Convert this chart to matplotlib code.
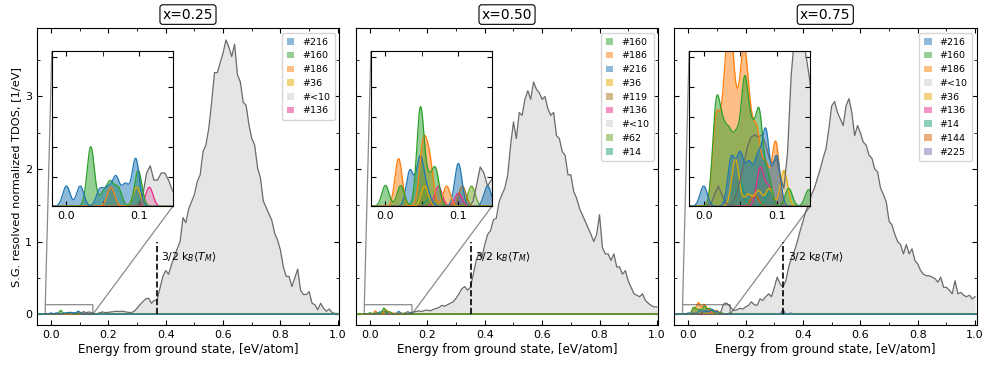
import numpy as np
import matplotlib
matplotlib.use('Agg')
import matplotlib.pyplot as plt
from matplotlib.patches import Patch
from matplotlib.ticker import MultipleLocator, NullFormatter

# ------------------------------------------------------------------ data
titles = ['x=0.25', 'x=0.50', 'x=0.75']
kbt_lines = [0.368, 0.351, 0.331]          # 3/2 kB<T_M> positions (eV/atom)
kbt_label = r'3/2 k$_B\langle T_M\rangle$'

# TDOS of low-symmetry structures (#<10)
# low part: energies 0.000 .. 0.150 every 0.005 ; high part: 0.16 .. 1.00 every 0.01
gray_low_025 = [0, 0, 0, 0, 0, 0, 0, 0, 0, 0, 0, 0, 0, 0, 0, 0, 0, 0, 0, 0,
                0.002, 0.010, 0.028, 0.034, 0.022, 0.022, 0.028, 0.028, 0.022, 0.014, 0.008]
gray_high_025 = [0.005, 0.02, 0.03, 0.02, 0.025, 0.03, 0.035, 0.04, 0.035, 0.04,
                 0.03, 0.025, 0.02, 0.04, 0.08, 0.13, 0.17, 0.21, 0.22, 0.15,
                 0.19, 0.20, 0.36, 0.52, 0.60, 0.55, 0.68, 0.80, 0.90, 1.00,
                 1.33, 1.26, 1.45, 1.55, 1.65, 1.83, 1.92, 2.24, 2.33, 2.56,
                 2.92, 3.33, 3.33, 3.47, 3.60, 3.78, 3.68, 3.55, 3.72, 3.30,
                 3.20, 2.92, 2.88, 2.61, 2.42, 2.33, 2.02, 1.88, 1.56, 1.47,
                 1.38, 1.29, 1.11, 1.02, 0.88, 0.65, 0.52, 0.52, 0.38, 0.50,
                 0.62, 0.33, 0.27, 0.27, 0.31, 0.15, 0.13, 0.06, 0.15, 0.08,
                 0.04, 0.07, 0.02, 0.01, 0.01]

gray_low_050 = [0, 0, 0, 0, 0, 0, 0, 0, 0, 0, 0, 0, 0, 0, 0, 0, 0, 0, 0, 0,
                0, 0, 0, 0, 0.004, 0.018, 0.033, 0.028, 0.017, 0.022, 0.028]
gray_high_050 = [0.035, 0.045, 0.035, 0.05, 0.055, 0.045, 0.065, 0.077, 0.09, 0.12,
                 0.11, 0.13, 0.15, 0.17, 0.22, 0.28, 0.35, 0.38, 0.33, 0.37,
                 0.55, 0.74, 0.85, 0.78, 0.96, 1.10, 1.15, 1.30, 1.32, 1.55,
                 1.65, 1.74, 1.92, 2.33, 2.65, 2.42, 2.78, 2.74, 2.96, 3.08,
                 2.96, 3.20, 3.10, 3.05, 2.96, 3.00, 2.83, 2.74, 2.78, 2.46,
                 2.42, 2.24, 2.19, 1.92, 1.92, 1.69, 1.60, 1.46, 1.37, 1.28,
                 1.19, 1.10, 1.00, 1.10, 1.37, 0.92, 0.83, 0.83, 0.74, 0.83,
                 0.65, 0.65, 0.55, 0.60, 0.46, 0.37, 0.28, 0.26, 0.24, 0.28,
                 0.19, 0.15, 0.12, 0.10, 0.10]

gray_low_075 = [0, 0, 0.002, 0.010, 0.017, 0.010, 0.003, 0.001, 0.003, 0.010,
                0.022, 0.036, 0.050, 0.058, 0.060, 0.058, 0.060, 0.052, 0.040, 0.036,
                0.040, 0.025, 0.015, 0.045, 0.110, 0.145, 0.152, 0.148, 0.128, 0.108, 0.080]
gray_high_075 = [0.05, 0.06, 0.08, 0.07, 0.10, 0.12, 0.17, 0.13, 0.12, 0.21,
                 0.19, 0.24, 0.28, 0.24, 0.37, 0.51, 0.42, 0.37, 0.46, 0.65,
                 0.78, 0.87, 1.00, 1.15, 1.28, 1.42, 1.51, 1.65, 1.74, 1.87,
                 2.00, 2.15, 2.28, 2.55, 2.87, 2.93, 2.78, 2.69, 2.60, 2.87,
                 2.97, 2.78, 2.46, 2.60, 2.50, 2.37, 2.33, 2.19, 2.15, 2.00,
                 1.96, 1.74, 1.65, 1.55, 1.28, 1.23, 1.10, 1.00, 0.96, 0.83,
                 0.96, 0.83, 0.90, 0.74, 0.69, 0.60, 0.55, 0.53, 0.53, 0.51,
                 0.49, 0.44, 0.51, 0.37, 0.37, 0.33, 0.28, 0.46, 0.28, 0.30,
                 0.26, 0.24, 0.26, 0.21, 0.24]

# space-group resolved structure energies (eV/atom) and peak heights (1/eV)
peaks_025 = {
    '#216': [(0.0, 0.017), (0.019, 0.017), (0.046, 0.014), (0.057, 0.014),
             (0.068, 0.024), (0.081, 0.018), (0.095, 0.040)],
    '#160': [(0.0334, 0.050), (0.050, 0.010), (0.060, 0.019), (0.071, 0.015),
             (0.0985, 0.030)],
    '#186': [(0.061, 0.016)],
    '#36':  [(0.0965, 0.016)],
    '#<10': None,
    '#136': [(0.1137, 0.016)],
}
peaks_050 = {
    '#160': [(0.0, 0.0176), (0.021, 0.0174), (0.048, 0.082), (0.059, 0.018),
             (0.0687, 0.030)],
    '#186': [(0.018, 0.040), (0.0516, 0.050), (0.0606, 0.036), (0.084, 0.017)],
    '#216': [(0.0336, 0.030), (0.0475, 0.040), (0.057, 0.012), (0.100, 0.036),
             (0.140, 0.017)],
    '#36':  [(0.054, 0.017)],
    '#119': [(0.1055, 0.017)],
    '#136': [(0.0727, 0.017), (0.100, 0.011)],
    '#<10': None,
    '#62':  [(0.118, 0.017)],
    '#14':  [(0.060, 0.006)],
}
peaks_075 = {
    '#216': [(0.0, 0.017), (0.038, 0.040), (0.050, 0.042), (0.062, 0.034),
             (0.074, 0.038), (0.0852, 0.062), (0.100, 0.042)],
    '#160': [(0.0171, 0.080), (0.026, 0.050), (0.035, 0.050), (0.045, 0.050),
             (0.0561, 0.098), (0.066, 0.052), (0.0762, 0.074), (0.088, 0.026),
             (0.1166, 0.015), (0.144, 0.014)],
    '#186': [(0.0171, 0.072), (0.028, 0.068), (0.036, 0.128), (0.045, 0.058),
             (0.0547, 0.112), (0.063, 0.058), (0.073, 0.058), (0.085, 0.034),
             (0.0987, 0.054)],
    '#<10': None,
    '#36':  [(0.0435, 0.040), (0.061, 0.010), (0.075, 0.013), (0.090, 0.015),
             (0.110, 0.030)],
    '#136': [(0.0776, 0.032), (0.0897, 0.016)],
    '#14':  [(0.050, 0.020), (0.090, 0.012)],
    '#144': [(0.070, 0.010)],
    '#225': [(0.330, 0.055), (0.357, 0.015)],
}

gray_low = [gray_low_025, gray_low_050, gray_low_075]
gray_high = [gray_high_025, gray_high_050, gray_high_075]
peaks_all = [peaks_025, peaks_050, peaks_075]

colors = {'#216': '#1f77b4', '#160': '#2ca02c', '#186': '#ff7f0e',
          '#36': '#e6ab02', '#136': '#e7298a', '#119': '#a6761d',
          '#62': '#66a61e', '#14': '#1b9e77', '#144': '#d95f02',
          '#225': '#7570b3'}
GRAY_FILL = '#d0d0d0'
GRAY_LINE = '#6a6a6a'
SIGMA = 0.005

# ------------------------------------------------------------------ plot
E = np.linspace(-0.06, 1.02, 4321)


def smear(peaks):
    y = np.zeros_like(E)
    for c, h in peaks:
        y += h * np.exp(-0.5 * ((E - c) / SIGMA) ** 2)
    return y


def style_ticks(a, labelsize=8):
    a.tick_params(which='both', direction='in', top=True, right=True,
                  labelsize=labelsize)
    a.tick_params(which='major', length=3.5, width=0.8)
    a.tick_params(which='minor', length=2, width=0.6)


fig = plt.figure(figsize=(9.97, 3.66), dpi=100)
lefts = [0.0368, 0.3568, 0.676]
axes = []
for i in range(3):
    ax = fig.add_axes([lefts[i], 0.112, 0.3035, 0.8107],
                      sharey=axes[0] if axes else None)
    axes.append(ax)

for i, ax in enumerate(axes):
    low = gray_low[i]
    high = gray_high[i]
    Eg = np.concatenate([0.005 * np.arange(len(low)),
                         0.16 + 0.01 * np.arange(len(high))])
    Dg = np.array(low + high, dtype=float)
    peaks = peaks_all[i]
    labels = list(peaks.keys())

    axins = ax.inset_axes([0.05, 0.40, 0.40, 0.522])
    for target in (ax, axins):
        for lab in labels[::-1]:
            if peaks[lab] is None:
                target.fill_between(Eg, 0, Dg, color=GRAY_FILL, alpha=0.55, lw=0)
                target.plot(Eg, Dg, color=GRAY_LINE, lw=0.9)
            else:
                y = smear(peaks[lab])
                c = colors[lab]
                target.fill_between(E, 0, y, color=c, alpha=0.5, lw=0)
                target.plot(E, y, color=c, lw=0.9)

    handles = [Patch(facecolor=(GRAY_FILL if peaks[l] is None else colors[l]),
                     alpha=0.55 if peaks[l] is None else 0.5, lw=0)
               for l in labels]
    ax.legend(handles, labels, loc='upper right', fontsize=6.8,
              handlelength=0.8, handleheight=0.7, handletextpad=0.8,
              labelspacing=0.5, borderpad=0.5)

    ax.plot([kbt_lines[i], kbt_lines[i]], [0, 1.0], color='k', ls='--', lw=1.2)
    ax.text(kbt_lines[i] + 0.016, 0.79, kbt_label, fontsize=7.8, va='center')

    ax.set_xlim(-0.05, 1.005)
    ax.set_ylim(-0.15, 3.94)
    ax.xaxis.set_major_locator(MultipleLocator(0.2))
    ax.xaxis.set_minor_locator(MultipleLocator(0.1))
    ax.yaxis.set_major_locator(MultipleLocator(1))
    ax.yaxis.set_minor_locator(MultipleLocator(0.5))
    style_ticks(ax)
    ax.set_xlabel('Energy from ground state, [eV/atom]', fontsize=8.6, labelpad=2)
    ax.set_title(titles[i], fontsize=10, pad=7,
                 bbox=dict(boxstyle='round,pad=0.2', fc='white', ec='black', lw=0.8))
    if i == 0:
        ax.set_ylabel('S.G. resolved normalized TDOS, [1/eV]', fontsize=8.2)
        ax.yaxis.set_label_coords(-0.05, 0.5)
    else:
        ax.tick_params(labelleft=False)

    axins.set_xlim(-0.02, 0.146)
    axins.set_ylim(0, 0.13)
    axins.xaxis.set_major_locator(MultipleLocator(0.1))
    axins.xaxis.set_minor_locator(MultipleLocator(0.05))
    axins.yaxis.set_major_locator(MultipleLocator(0.025))
    axins.yaxis.set_major_formatter(NullFormatter())
    style_ticks(axins)
    axins.tick_params(which='minor', length=3.5)
    ax.indicate_inset_zoom(axins, edgecolor='0.35', alpha=0.7, lw=0.9)

fig.savefig('out.png', dpi=100)
